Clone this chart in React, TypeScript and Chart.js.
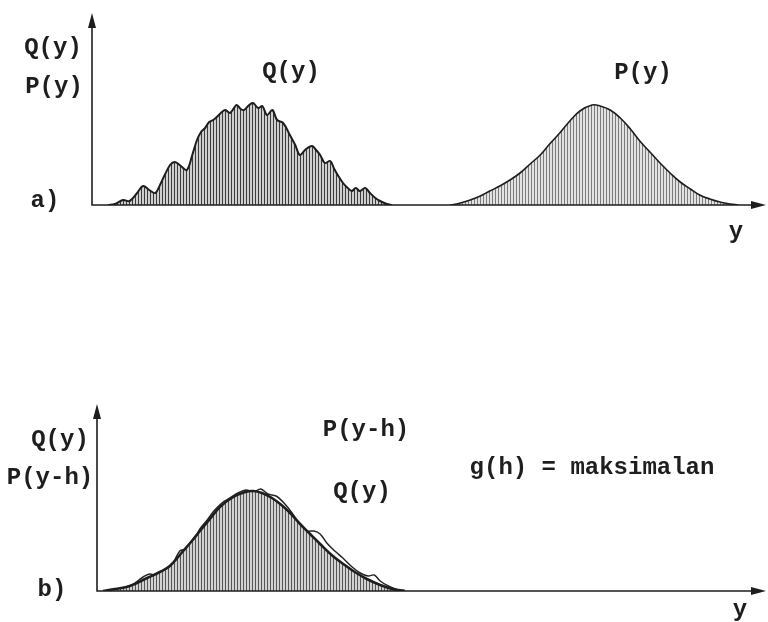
import React, { useEffect, useRef } from "react";
import { Chart, registerables } from "chart.js";

Chart.register(...registerables);

// Panel a): measured density Q(y) and model density P(y), far apart on the y axis
const qTopX = [0.24, 0.34, 0.46, 0.56, 0.67, 0.76, 0.85, 0.94, 1.01, 1.08, 1.16, 1.23, 1.32, 1.41, 1.49, 1.56, 1.62, 1.68, 1.74, 1.8, 1.87, 1.93, 1.98, 2.05, 2.11, 2.15, 2.21, 2.26, 2.32, 2.39, 2.47, 2.53, 2.6, 2.68, 2.75, 2.84, 2.94, 3.02, 3.09, 3.18, 3.27, 3.33, 3.39, 3.46, 3.54, 3.6, 3.66, 3.73, 3.8, 3.86, 3.92, 3.98, 4.06, 4.13, 4.21, 4.28, 4.38, 4.46];
const qTopY = [0, 0.01, 0.05, 0.04, 0.12, 0.19, 0.15, 0.12, 0.2, 0.3, 0.4, 0.43, 0.39, 0.35, 0.5, 0.65, 0.73, 0.77, 0.83, 0.85, 0.89, 0.93, 0.95, 0.92, 0.97, 1.0, 0.96, 0.95, 0.99, 1.02, 0.97, 0.99, 0.9, 0.95, 0.85, 0.82, 0.7, 0.6, 0.5, 0.56, 0.59, 0.55, 0.5, 0.42, 0.44, 0.36, 0.29, 0.22, 0.17, 0.14, 0.17, 0.14, 0.17, 0.12, 0.07, 0.04, 0.01, 0];

const pTopX = [5.32, 5.42, 5.62, 5.77, 5.91, 6.06, 6.21, 6.36, 6.51, 6.66, 6.8, 6.95, 7.1, 7.25, 7.43, 7.55, 7.7, 7.85, 8.0, 8.14, 8.29, 8.44, 8.59, 8.74, 8.89, 9.03, 9.18, 9.33, 9.48, 9.6];
const pTopY = [0, 0.01, 0.05, 0.09, 0.14, 0.19, 0.25, 0.32, 0.41, 0.5, 0.61, 0.72, 0.84, 0.94, 1.0, 0.99, 0.95, 0.87, 0.76, 0.64, 0.53, 0.42, 0.32, 0.23, 0.16, 0.1, 0.06, 0.03, 0.01, 0];

// Panel b): P shifted by h so that it lies over Q(y)
const pShiftX = [0.09, 0.27, 0.49, 0.75, 0.94, 1.09, 1.29, 1.42, 1.54, 1.69, 1.84, 2.04, 2.22, 2.34, 2.47, 2.62, 2.78, 2.92, 3.04, 3.19, 3.34, 3.53, 3.71, 3.86, 4.04, 4.24, 4.42, 4.61];
const pShiftY = [0, 0.02, 0.05, 0.13, 0.19, 0.25, 0.4, 0.5, 0.6, 0.72, 0.84, 0.94, 0.99, 1.0, 0.98, 0.93, 0.85, 0.76, 0.67, 0.57, 0.47, 0.35, 0.26, 0.19, 0.12, 0.06, 0.02, 0];

const qBotX = [0.09, 0.31, 0.52, 0.69, 0.79, 0.9, 1.02, 1.14, 1.24, 1.33, 1.42, 1.54, 1.65, 1.75, 1.87, 1.99, 2.11, 2.23, 2.35, 2.45, 2.56, 2.68, 2.8, 2.92, 3.04, 3.14, 3.25, 3.34, 3.44, 3.56, 3.68, 3.82, 3.94, 4.06, 4.15, 4.24, 4.36, 4.51, 4.61];
const qBotY = [0, 0.02, 0.06, 0.14, 0.17, 0.15, 0.18, 0.28, 0.4, 0.42, 0.46, 0.62, 0.71, 0.8, 0.88, 0.93, 0.98, 1.01, 0.99, 1.02, 0.97, 0.95, 0.88, 0.78, 0.66, 0.6, 0.6, 0.57, 0.48, 0.4, 0.33, 0.24, 0.18, 0.15, 0.16, 0.1, 0.05, 0.01, 0];

const INK = "#1e1e1e";
const FONT = "bold 24px 'Liberation Mono', 'DejaVu Sans Mono', monospace";

type Label = { text: string; x: number; y: number };

const topLabels: Label[] = [
  { text: "Q(y)", x: 53, y: 48 },
  { text: "P(y)", x: 54, y: 87 },
  { text: "a)", x: 45, y: 201 },
  { text: "Q(y)", x: 291, y: 72 },
  { text: "P(y)", x: 643, y: 73 },
  { text: "y", x: 736, y: 232 },
];

const bottomLabels: Label[] = [
  { text: "Q(y)", x: 60, y: 129 },
  { text: "P(y-h)", x: 50, y: 167 },
  { text: "b)", x: 52, y: 279 },
  { text: "P(y-h)", x: 366, y: 119 },
  { text: "Q(y)", x: 362, y: 181 },
  { text: "g(h) = maksimalan", x: 592, y: 157 },
  { text: "y", x: 740, y: 299 },
];

function hatch(line: string, bg: string, step: number): CanvasPattern {
  const c = document.createElement("canvas");
  c.width = step;
  c.height = 4;
  const g = c.getContext("2d")!;
  g.fillStyle = bg;
  g.fillRect(0, 0, step, 4);
  g.fillStyle = line;
  g.fillRect(0, 0, 1, 4);
  return g.createPattern(c, "repeat")!;
}

function pts(xs: number[], ys: number[]) {
  return xs.map((x, i) => ({ x, y: ys[i] }));
}

// Arrowed axes and typewriter-style annotations
function decorations(labels: Label[]) {
  return {
    id: "decorations",
    afterDraw(chart: Chart) {
      const { ctx, chartArea: a } = chart;
      ctx.save();
      ctx.strokeStyle = INK;
      ctx.fillStyle = INK;
      ctx.lineWidth = 1.6;
      ctx.beginPath();
      ctx.moveTo(a.left, a.top + 6);
      ctx.lineTo(a.left, a.bottom);
      ctx.lineTo(a.right - 6, a.bottom);
      ctx.stroke();
      // vertical arrowhead
      ctx.beginPath();
      ctx.moveTo(a.left, a.top - 1);
      ctx.lineTo(a.left - 4, a.top + 14);
      ctx.lineTo(a.left + 4, a.top + 14);
      ctx.closePath();
      ctx.fill();
      // horizontal arrowhead
      ctx.beginPath();
      ctx.moveTo(a.right + 1, a.bottom);
      ctx.lineTo(a.right - 14, a.bottom - 4);
      ctx.lineTo(a.right - 14, a.bottom + 4);
      ctx.closePath();
      ctx.fill();

      ctx.font = FONT;
      ctx.textAlign = "center";
      ctx.textBaseline = "middle";
      for (const l of labels) ctx.fillText(l.text, l.x, l.y);
      ctx.restore();
    },
  };
}

function baseOptions(yMax: number, padding: { left: number; right: number; top: number; bottom: number }) {
  return {
    animation: false as const,
    responsive: false,
    events: [] as any[],
    layout: { padding },
    plugins: { legend: { display: false }, tooltip: { enabled: false } },
    elements: { point: { radius: 0 } },
    scales: {
      x: { type: "linear" as const, min: 0, max: 10, display: false },
      y: { min: 0, max: yMax, display: false },
    },
  };
}

export default function App() {
  const topRef = useRef<HTMLCanvasElement>(null);
  const botRef = useRef<HTMLCanvasElement>(null);

  useEffect(() => {
    const top = new Chart(topRef.current!, {
      type: "line",
      data: {
        datasets: [
          {
            data: pts(qTopX, qTopY),
            borderColor: INK,
            borderWidth: 2,
            tension: 0.35,
            fill: "origin",
            backgroundColor: hatch("#3c3c3c", "#cfcfcf", 3),
          },
          {
            data: pts(pTopX, pTopY),
            borderColor: INK,
            borderWidth: 1.6,
            tension: 0.4,
            fill: "origin",
            backgroundColor: hatch("#7c7c7c", "#e2e2e2", 3),
          },
        ],
      },
      options: baseOptions(1.91, { left: 92, right: 3, top: 14, bottom: 106 }),
      plugins: [decorations(topLabels)],
    } as any);

    const bottom = new Chart(botRef.current!, {
      type: "line",
      data: {
        datasets: [
          {
            data: pts(pShiftX, pShiftY),
            borderColor: INK,
            borderWidth: 2.6,
            tension: 0.4,
            fill: "origin",
            backgroundColor: hatch("#555555", "#d2d2d2", 3),
          },
          {
            data: pts(qBotX, qBotY),
            borderColor: "#262626",
            borderWidth: 1.5,
            tension: 0.35,
            fill: false,
          },
        ],
      },
      options: baseOptions(1.86, { left: 97, right: 3, top: 94, bottom: 31 }),
      plugins: [decorations(bottomLabels)],
    } as any);

    return () => {
      top.destroy();
      bottom.destroy();
    };
  }, []);

  return (
    <div
      style={{
        position: "fixed",
        left: 0,
        top: 0,
        width: 768,
        height: 622,
        background: "#ffffff",
      }}
    >
      <canvas ref={topRef} width={768} height={311} style={{ position: "absolute", left: 0, top: 0 }} />
      <canvas ref={botRef} width={768} height={311} style={{ position: "absolute", left: 0, top: 311 }} />
    </div>
  );
}
